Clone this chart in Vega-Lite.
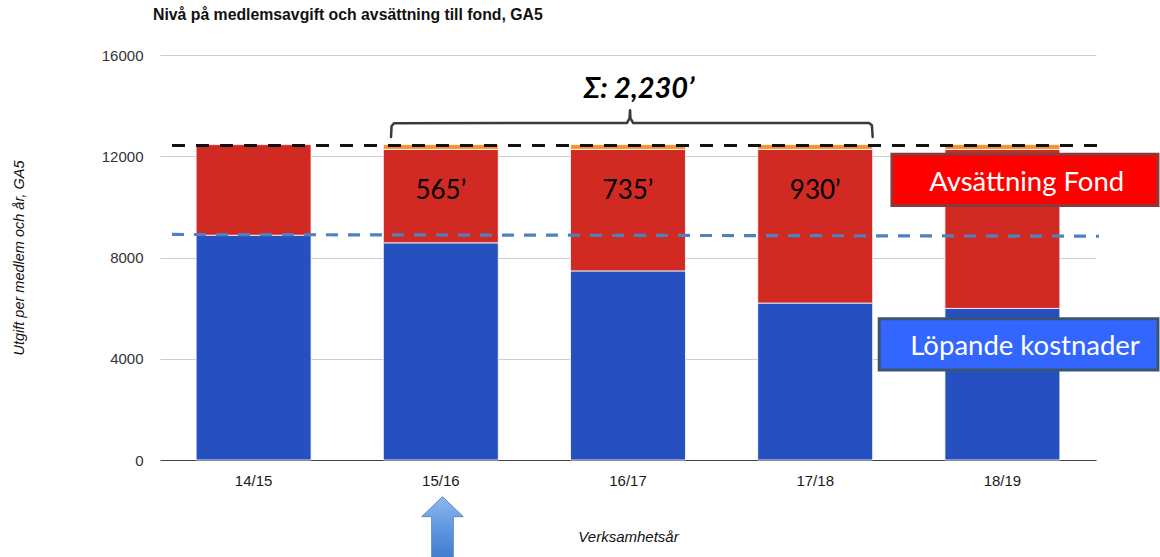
{
  "$schema": "https://vega.github.io/schema/vega-lite/v6.json",
  "width": 936,
  "height": 405,
  "autosize": {"type": "none"},
  "padding": {"left": 160, "top": 55, "right": 64, "bottom": 97},
  "background": "#ffffff",
  "title": {
    "text": "Nivå på medlemsavgift och avsättning till fond, GA5",
    "anchor": "start",
    "frame": "group",
    "font": "Liberation Sans",
    "fontSize": 15.8,
    "fontWeight": "bold",
    "color": "#111111",
    "offset": 24,
    "dx": -7
  },
  "config": {
    "view": {"stroke": null},
    "axis": {"labelFont": "Liberation Sans", "titleFont": "Liberation Sans"}
  },
  "resolve": {"scale": {"x": "independent"}, "axis": {"x": "independent", "y": "independent"}},
  "layer": [
    {
      "data": {"values": [
        {"year": "14/15", "seg": "Löpande kostnader", "v": 8880, "o": 1},
        {"year": "14/15", "seg": "Avsättning Fond", "v": 3580, "o": 2},
        {"year": "15/16", "seg": "Löpande kostnader", "v": 8580, "o": 1},
        {"year": "15/16", "seg": "Avsättning Fond", "v": 3690, "o": 2},
        {"year": "15/16", "seg": "Övrigt", "v": 190, "o": 3},
        {"year": "16/17", "seg": "Löpande kostnader", "v": 7470, "o": 1},
        {"year": "16/17", "seg": "Avsättning Fond", "v": 4800, "o": 2},
        {"year": "16/17", "seg": "Övrigt", "v": 190, "o": 3},
        {"year": "17/18", "seg": "Löpande kostnader", "v": 6200, "o": 1},
        {"year": "17/18", "seg": "Avsättning Fond", "v": 6070, "o": 2},
        {"year": "17/18", "seg": "Övrigt", "v": 190, "o": 3},
        {"year": "18/19", "seg": "Löpande kostnader", "v": 5990, "o": 1},
        {"year": "18/19", "seg": "Avsättning Fond", "v": 6280, "o": 2},
        {"year": "18/19", "seg": "Övrigt", "v": 190, "o": 3}
      ]},
      "mark": {"type": "bar", "stroke": "#ffffff", "strokeWidth": 0.8},
      "encoding": {
        "x": {
          "field": "year", "type": "nominal",
          "sort": ["14/15", "15/16", "16/17", "17/18", "18/19"],
          "scale": {"paddingInner": 0.386, "paddingOuter": 0.193},
          "axis": {
            "title": "Verksamhetsår",
            "titleFontStyle": "italic",
            "titleFontWeight": "normal",
            "titleFontSize": 15,
            "titleColor": "#111111",
            "titlePadding": 41,
            "labelAngle": 0,
            "labelFontSize": 15,
            "labelColor": "#1a1a1a",
            "labelPadding": 13,
            "ticks": false,
            "domainColor": "#444444",
            "domainWidth": 1.2,
            "grid": false
          }
        },
        "y": {
          "field": "v", "type": "quantitative", "stack": "zero",
          "scale": {"domain": [0, 16000], "nice": false},
          "axis": {
            "title": "Utgift per medlem och år, GA5",
            "titleFontStyle": "italic",
            "titleFontWeight": "normal",
            "titleFontSize": 14.5,
            "titleColor": "#111111",
            "titlePadding": 75,
            "values": [0, 4000, 8000, 12000, 16000],
            "format": "d",
            "labelFontSize": 15,
            "labelColor": "#333333",
            "labelPadding": 17,
            "ticks": false,
            "domain": false,
            "grid": true,
            "gridColor": "#cccccc",
            "gridWidth": 1
          }
        },
        "color": {
          "field": "seg", "type": "nominal",
          "scale": {"domain": ["Löpande kostnader", "Avsättning Fond", "Övrigt"], "range": ["#2650c0", "#d02a22", "#f0952e"]},
          "legend": null
        },
        "order": {"field": "o", "type": "quantitative"}
      }
    },
    {
      "data": {"values": [{"xa": 0.564, "xb": 5.516, "v": 12420}]},
      "mark": {"type": "rule", "color": "#111111", "strokeWidth": 3, "strokeDash": [13, 11]},
      "encoding": {
        "x": {"field": "xa", "type": "quantitative", "scale": {"domain": [0.5, 5.5], "nice": false, "zero": false}, "axis": null},
        "x2": {"field": "xb"},
        "y": {"field": "v", "type": "quantitative", "scale": {"domain": [0, 16000], "nice": false}, "axis": null}
      }
    },
    {
      "data": {"values": [{"xi": 0.564, "v": 8910}, {"xi": 5.516, "v": 8840}]},
      "mark": {"type": "line", "color": "#4f81bd", "strokeWidth": 3.2, "strokeDash": [12, 10]},
      "encoding": {
        "x": {"field": "xi", "type": "quantitative", "scale": {"domain": [0.5, 5.5], "nice": false, "zero": false}, "axis": null},
        "y": {"field": "v", "type": "quantitative", "scale": {"domain": [0, 16000], "nice": false}, "axis": null}
      }
    },
    {
      "data": {"values": [
        {"xi": 2, "v": 10630, "t": "565’"},
        {"xi": 3, "v": 10630, "t": "735’"},
        {"xi": 4, "v": 10630, "t": "930’"}
      ]},
      "mark": {"type": "text", "font": "Lato", "fontSize": 26, "color": "#000000", "baseline": "middle", "align": "center"},
      "encoding": {
        "x": {"field": "xi", "type": "quantitative", "scale": {"domain": [0.5, 5.5], "nice": false, "zero": false}, "axis": null},
        "y": {"field": "v", "type": "quantitative", "scale": {"domain": [0, 16000], "nice": false}, "axis": null},
        "text": {"field": "t"}
      }
    },
    {
      "data": {"values": [{"xi": 3.059, "v": 14650, "t": "Σ: 2,230’"}]},
      "mark": {"type": "text", "font": "Lato", "fontSize": 29, "fontWeight": "bold", "fontStyle": "italic", "color": "#000000", "baseline": "middle", "align": "center"},
      "encoding": {
        "x": {"field": "xi", "type": "quantitative", "scale": {"domain": [0.5, 5.5], "nice": false, "zero": false}, "axis": null},
        "y": {"field": "v", "type": "quantitative", "scale": {"domain": [0, 16000], "nice": false}, "axis": null},
        "text": {"field": "t"}
      }
    },
    {
      "data": {"values": [
        {"xi": 1.734, "v": 12763, "o": 1},
        {"xi": 1.737, "v": 13186, "o": 2},
        {"xi": 1.750, "v": 13304, "o": 3},
        {"xi": 2.995, "v": 13316, "o": 4},
        {"xi": 3.008, "v": 13502, "o": 5},
        {"xi": 3.011, "v": 13818, "o": 6},
        {"xi": 3.013, "v": 13502, "o": 7},
        {"xi": 3.027, "v": 13316, "o": 8},
        {"xi": 4.287, "v": 13316, "o": 9},
        {"xi": 4.303, "v": 13225, "o": 10},
        {"xi": 4.307, "v": 12763, "o": 11}
      ]},
      "mark": {"type": "line", "color": "#3a3a3a", "strokeWidth": 2.5, "strokeJoin": "round", "strokeCap": "round"},
      "encoding": {
        "x": {"field": "xi", "type": "quantitative", "scale": {"domain": [0.5, 5.5], "nice": false, "zero": false}, "axis": null},
        "y": {"field": "v", "type": "quantitative", "scale": {"domain": [0, 16000], "nice": false}, "axis": null},
        "order": {"field": "o", "type": "quantitative"}
      }
    },
    {
      "data": {"values": [
        {"xa": 4.410, "xb": 5.831, "v": 12080, "v2": 10055, "k": "fond"},
        {"xa": 4.342, "xb": 5.831, "v": 5578, "v2": 3553, "k": "lop"}
      ]},
      "mark": {"type": "rect", "strokeWidth": 3},
      "encoding": {
        "x": {"field": "xa", "type": "quantitative", "scale": {"domain": [0.5, 5.5], "nice": false, "zero": false}, "axis": null},
        "x2": {"field": "xb"},
        "y": {"field": "v", "type": "quantitative", "scale": {"domain": [0, 16000], "nice": false}, "axis": null},
        "y2": {"field": "v2"},
        "fill": {"field": "k", "type": "nominal", "scale": {"domain": ["fond", "lop"], "range": ["#ff0000", "#3366ff"]}, "legend": null},
        "stroke": {"field": "k", "type": "nominal", "scale": {"domain": ["fond", "lop"], "range": ["#8a3a3a", "#3b5570"]}, "legend": null}
      }
    },
    {
      "data": {"values": [
        {"xi": 5.130, "v": 10947, "t": "Avsättning Fond"},
        {"xi": 5.121, "v": 4473, "t": "Löpande kostnader"}
      ]},
      "mark": {"type": "text", "font": "Lato", "fontSize": 27.5, "color": "#ffffff", "baseline": "middle", "align": "center"},
      "encoding": {
        "x": {"field": "xi", "type": "quantitative", "scale": {"domain": [0.5, 5.5], "nice": false, "zero": false}, "axis": null},
        "y": {"field": "v", "type": "quantitative", "scale": {"domain": [0, 16000], "nice": false}, "axis": null},
        "text": {"field": "t"}
      }
    },
    {
      "data": {"values": [{"xi": 2.009, "v": -2764}]},
      "mark": {
        "type": "point",
        "shape": "M0,-1.6 L1,-0.64 L0.52,-0.64 L0.52,2.2 L-0.52,2.2 L-0.52,-0.64 L-1,-0.64 Z",
        "size": 1731,
        "filled": true,
        "opacity": 1,
        "fill": {"gradient": "linear", "x1": 0, "y1": 0, "x2": 0, "y2": 1, "stops": [{"offset": 0, "color": "#8fb8ee"}, {"offset": 0.45, "color": "#5a93de"}, {"offset": 1, "color": "#2f6cc4"}]},
        "stroke": "#5b8bc9",
        "strokeWidth": 1
      },
      "encoding": {
        "x": {"field": "xi", "type": "quantitative", "scale": {"domain": [0.5, 5.5], "nice": false, "zero": false}, "axis": null},
        "y": {"field": "v", "type": "quantitative", "scale": {"domain": [0, 16000], "nice": false}, "axis": null}
      }
    }
  ]
}
